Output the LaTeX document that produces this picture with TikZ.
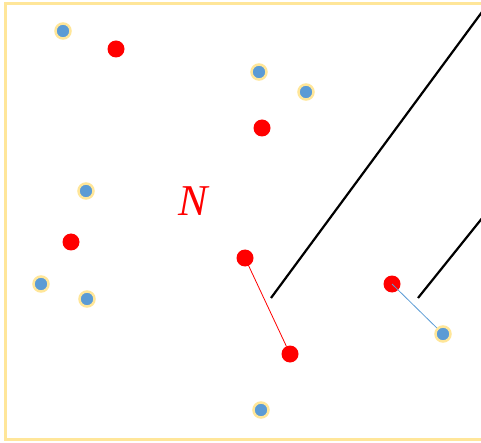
\documentclass[tikz,border=0pt]{standalone}
\usepackage{fontspec}
\setmainfont{Liberation Serif}
\definecolor{fy}{HTML}{FFE699}
\definecolor{bl}{HTML}{5B9BD5}
\tikzset{
  bdot/.style={circle,fill=bl,draw=fy,line width=2.5pt,minimum size=15pt,inner sep=0pt},
  rdot/.style={circle,fill=red,minimum size=17pt,inner sep=0pt},
  blk/.style={black,line width=2.2pt}
}
\begin{document}
\begin{tikzpicture}[x=1pt,y=-1pt]
\useasboundingbox (0,0) rectangle (481,443);
\clip (0,0) rectangle (481,443);
\draw[fy,line width=3pt] (5.5,3.5) rectangle (490,439.5);
\coordinate (a1) at (271,298);
\coordinate (a2) at (496,-7);
\coordinate (b1) at (418,298);
\coordinate (b2) at (520,171);
\draw[blk] (a1) -- (a2);
\draw[blk] (b1) -- (b2);
\node[bdot] (u1) at (63,31) {};
\node[bdot] (u2) at (259,72) {};
\node[bdot] (u3) at (306,92) {};
\node[bdot] (u4) at (86,191) {};
\node[bdot] (u5) at (41,284) {};
\node[bdot] (u6) at (87,299) {};
\node[bdot] (u7) at (443,334) {};
\node[bdot] (u8) at (261,410) {};
\node[rdot] (r1) at (116,49) {};
\node[rdot] (r2) at (262,128) {};
\node[rdot] (r3) at (71,242) {};
\node[rdot] (r4) at (245,258) {};
\node[rdot] (r5) at (290,354) {};
\node[rdot] (r6) at (392,284) {};
\draw[red,line width=0.8pt] (r4.center) -- (r5);
\draw[bl,line width=0.8pt] (r6.center) -- (u7);
\node[red,font=\fontsize{44}{44}\selectfont\itshape] (N) at (193,201) {N};
\end{tikzpicture}
\end{document}
